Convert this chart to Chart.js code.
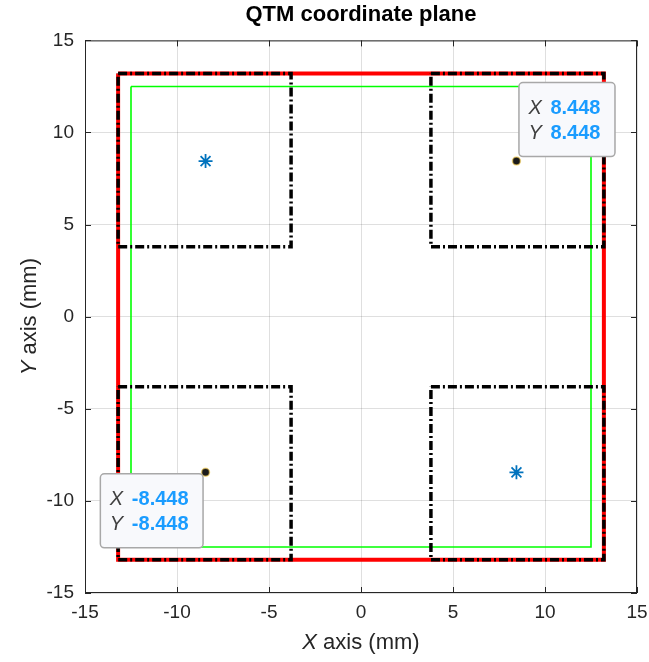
<!DOCTYPE html>
<html lang="en">
<head>
    <meta charset="UTF-8">
    <title>QTM coordinate plane</title>
    <script src="https://cdn.jsdelivr.net/npm/chart.js"></script>
    <style>
        body{
            margin: 0;
            padding: 0;
            background-color: #ffffff;
        }
        .chart-container {
            width: 649px;
            height: 662px;
        }
    </style>
</head>
<body>
    <div class="chart-container">
        <canvas id="myChart"></canvas>
    </div>

    <script>
        // axis ticks (mm)
        const tickValues = [-15, -10, -5, 0, 5, 10, 15];

        // outer red boundary
        const redX = [-13.2, 13.2, 13.2, -13.2, -13.2];
        const redY = [13.2, 13.2, -13.2, -13.2, 13.2];

        // inner green boundary
        const greenX = [-12.5, 12.5, 12.5, -12.5, -12.5];
        const greenY = [12.5, 12.5, -12.5, -12.5, 12.5];

        // four corner regions (dash-dot black)
        const cornerX = [
            [-13.2, -3.8, -3.8, -13.2, -13.2],
            [3.8, 13.2, 13.2, 3.8, 3.8],
            [-13.2, -3.8, -3.8, -13.2, -13.2],
            [3.8, 13.2, 13.2, 3.8, 3.8]
        ];
        const cornerY = [
            [13.2, 13.2, 3.8, 3.8, 13.2],
            [13.2, 13.2, 3.8, 3.8, 13.2],
            [-3.8, -3.8, -13.2, -13.2, -3.8],
            [-3.8, -3.8, -13.2, -13.2, -3.8]
        ];

        // blue star markers
        const starX = [-8.448, 8.448];
        const starY = [8.448, -8.448];

        // data tip points
        const tipX = [8.448, -8.448];
        const tipY = [8.448, -8.448];

        const toPts = (xs, ys) => xs.map((x, i) => ({x: x, y: ys[i]}));

        const textColor = '#262626';
        const fontFamily = '"Liberation Sans", Arial, sans-serif';

        const datasets = [];
        cornerX.forEach((xs, i) => {
            datasets.push({
                label: 'corner ' + (i + 1),
                data: toPts(xs, cornerY[i]),
                showLine: true,
                borderColor: '#000000',
                borderWidth: 3.5,
                borderDash: [9, 3, 2, 3],
                pointRadius: 0,
                order: 1
            });
        });
        datasets.push({
            label: 'tips',
            data: toPts(tipX, tipY),
            showLine: false,
            pointStyle: 'circle',
            pointRadius: 4,
            backgroundColor: '#1a1a1a',
            borderColor: 'rgba(255, 215, 90, 0.6)',
            borderWidth: 1.5,
            order: 0
        });
        datasets.push({
            label: 'stars',
            data: toPts(starX, starY),
            showLine: false,
            pointStyle: 'star',
            pointRadius: 7,
            borderColor: '#0072BD',
            backgroundColor: '#0072BD',
            borderWidth: 1.8,
            order: 0
        });
        datasets.push({
            label: 'green',
            data: toPts(greenX, greenY),
            showLine: true,
            borderColor: '#00ff00',
            borderWidth: 1.6,
            pointRadius: 0,
            order: 3
        });
        datasets.push({
            label: 'red',
            data: toPts(redX, redY),
            showLine: true,
            borderColor: '#ff0000',
            borderWidth: 4,
            pointRadius: 0,
            order: 4
        });

        // box, inner ticks, axis labels with italic letter
        const framePlugin = {
            id: 'frame',
            afterDatasetsDraw(chart) {
                const {ctx, chartArea: a, scales} = chart;
                ctx.save();
                ctx.strokeStyle = textColor;
                ctx.lineWidth = 1;
                ctx.strokeRect(a.left + 0.5, a.top + 0.5, a.width - 1, a.height - 1);
                const len = 6;
                tickValues.forEach(v => {
                    const px = Math.round(scales.x.getPixelForValue(v)) + 0.5;
                    const py = Math.round(scales.y.getPixelForValue(v)) + 0.5;
                    ctx.beginPath();
                    ctx.moveTo(px, a.bottom); ctx.lineTo(px, a.bottom - len);
                    ctx.moveTo(px, a.top); ctx.lineTo(px, a.top + len);
                    ctx.moveTo(a.left, py); ctx.lineTo(a.left + len, py);
                    ctx.moveTo(a.right, py); ctx.lineTo(a.right - len, py);
                    ctx.stroke();
                });
                ctx.restore();
            },
            afterDraw(chart) {
                const {ctx, chartArea: a} = chart;
                const size = 22;
                const italic = 'italic ' + size + 'px ' + fontFamily;
                const normal = size + 'px ' + fontFamily;
                const drawLabel = (letter, rest) => {
                    ctx.font = italic;
                    const w1 = ctx.measureText(letter).width;
                    ctx.font = normal;
                    const w2 = ctx.measureText(rest).width;
                    const start = -(w1 + w2) / 2;
                    ctx.font = italic;
                    ctx.fillText(letter, start, 0);
                    ctx.font = normal;
                    ctx.fillText(rest, start + w1, 0);
                };
                ctx.save();
                ctx.fillStyle = textColor;
                ctx.textBaseline = 'middle';
                ctx.textAlign = 'left';
                ctx.save();
                ctx.translate((a.left + a.right) / 2, 643);
                drawLabel('X', ' axis (mm)');
                ctx.restore();
                ctx.save();
                ctx.translate(30, (a.top + a.bottom) / 2);
                ctx.rotate(-Math.PI / 2);
                drawLabel('Y', ' axis (mm)');
                ctx.restore();
                ctx.restore();
            }
        };

        // MATLAB style data tips
        const tipPlugin = {
            id: 'datatips',
            afterDraw(chart) {
                const {ctx, scales} = chart;
                const font = '20px ' + fontFamily;
                const italic = 'italic ' + font;
                const bold = 'bold ' + font;
                ctx.save();
                tipX.forEach((xv, i) => {
                    const px = scales.x.getPixelForValue(xv);
                    const py = scales.y.getPixelForValue(tipY[i]);
                    const xs = xv.toFixed(3);
                    const ys = tipY[i].toFixed(3);
                    ctx.font = bold;
                    const vw = Math.max(ctx.measureText(xs).width, ctx.measureText(ys).width);
                    const w = 32 + vw + 14;
                    const h = 74;
                    let left, top;
                    if (xv > 0) { left = px + 2; top = py - 5 - h; }
                    else { left = px - 3 - w; top = py + 1; }
                    ctx.beginPath();
                    ctx.roundRect(left + 0.5, top + 0.5, w, h, 4);
                    ctx.fillStyle = '#f8f9fc';
                    ctx.fill();
                    ctx.strokeStyle = '#a8a8a8';
                    ctx.lineWidth = 1.5;
                    ctx.stroke();
                    ctx.textBaseline = 'middle';
                    ctx.textAlign = 'left';
                    [['X', xs], ['Y', ys]].forEach((row, r) => {
                        const ty = top + 26 + r * 25;
                        ctx.font = italic;
                        ctx.fillStyle = '#404040';
                        ctx.fillText(row[0], left + 10, ty);
                        ctx.font = bold;
                        ctx.fillStyle = '#1a9cff';
                        ctx.fillText(row[1], left + 32, ty);
                    });
                });
                ctx.restore();
            }
        };

        const tickFont = {family: fontFamily, size: 19};

        new Chart(document.getElementById('myChart'), {
            type: 'scatter',
            data: {datasets: datasets},
            options: {
                responsive: true,
                maintainAspectRatio: false,
                animation: false,
                layout: {padding: {top: 0, right: 12, bottom: 0, left: 0}},
                plugins: {
                    legend: {display: false},
                    tooltip: {enabled: false},
                    title: {
                        display: true,
                        fullSize: false,
                        text: 'QTM coordinate plane',
                        color: '#000000',
                        font: {family: fontFamily, size: 22, weight: 'bold'},
                        padding: {top: 2, bottom: 12}
                    }
                },
                scales: {
                    x: {
                        type: 'linear',
                        min: -15,
                        max: 15,
                        afterBuildTicks: s => { s.ticks = tickValues.map(v => ({value: v})); },
                        afterFit: s => { s.height = 69; s.paddingLeft = 0; s.paddingRight = 0; },
                        ticks: {color: textColor, font: tickFont, padding: 8, maxRotation: 0},
                        grid: {color: 'rgba(38,38,38,0.15)', drawTicks: false},
                        border: {display: false}
                    },
                    y: {
                        type: 'linear',
                        min: -15,
                        max: 15,
                        afterBuildTicks: s => { s.ticks = tickValues.map(v => ({value: v})); },
                        afterFit: s => { s.width = 85; s.paddingTop = 0; s.paddingBottom = 0; },
                        ticks: {color: textColor, font: tickFont, padding: 11},
                        grid: {color: 'rgba(38,38,38,0.15)', drawTicks: false},
                        border: {display: false}
                    }
                }
            },
            plugins: [framePlugin, tipPlugin]
        });
    </script>
</body>
</html>
